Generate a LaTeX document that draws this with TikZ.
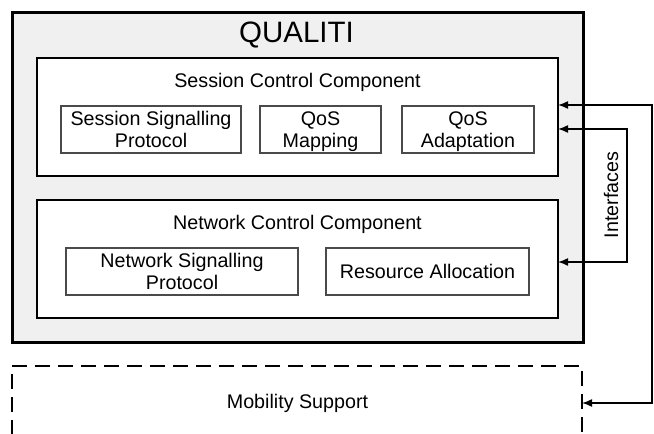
\documentclass[tikz,border=0pt]{standalone}
\usepackage{fontspec}
\setmainfont{Liberation Sans}
\usetikzlibrary{arrows.meta,calc}
\definecolor{qgray}{HTML}{F0F0F0}
\definecolor{subline}{HTML}{4A4A4A}
\begin{document}
\begin{tikzpicture}[x=1pt,y=-1pt,
  every node/.style={font=\fontsize{19.7}{22.5}\selectfont, inner sep=0pt, outer sep=0pt},
  outerbox/.style={draw, line width=3pt, fill=qgray, minimum width=571pt, minimum height=330pt},
  compbox/.style={draw, line width=1.8pt, fill=white, minimum width=521pt, minimum height=118pt},
  subbox/.style={draw=subline, line width=1.2pt, fill=white, minimum height=47pt, align=center, text depth=0pt},
  mobbox/.style={draw, dash pattern=on 15pt off 8pt, line width=1.8pt, minimum width=570pt, minimum height=140pt, anchor=north},
  lbl/.style={anchor=base},
  conn/.style={line width=1.5pt, {Latex[length=10pt,width=8pt]}-{Latex[length=10pt,width=8pt]}}
]
\useasboundingbox (0,0) rectangle (654,434);
\clip (0,0) rectangle (654,434);
\fill[white] (0,0) rectangle (654,434);

% outer QUALITI box
\node[outerbox] (q) at (297.5,177) {};
\node[lbl, font=\fontsize{29.5}{30}\selectfont] (qt) at (296.5,42) {QUALITI};

% session control component
\node[compbox] (ses) at (297.5,117) {};
\node[lbl] (sest) at (297.5,87.5) {Session Control Component};
\node[subbox, minimum width=180pt] (ssp) at (151,129.5) {Session Signalling\\Protocol};
\node[subbox, minimum width=121pt] (qm) at (320.5,129.5) {QoS\\Mapping};
\node[subbox, minimum width=132pt] (qa) at (468,129.5) {QoS\\Adaptation};

% network control component
\node[compbox] (net) at (297.5,259) {};
\node[lbl] (nett) at (297.5,229.5) {Network Control Component};
\node[subbox, minimum width=232pt] (nsp) at (182,271.5) {Network Signalling\\Protocol};
\node[subbox, minimum width=203pt] (ra) at (427.5,271.5) {Resource Allocation};

% mobility support (open at the bottom of the picture)
\node[mobbox] (mob) at (297,366) {};
\node[lbl] (mobt) at (297.5,408) {Mobility Support};

% interfaces
\node[rotate=90] (ifc) at (611,195) {Interfaces};
\coordinate (o1) at (652,105);
\coordinate (o2) at (652,403);
\coordinate (i1) at (627,129);
\coordinate (i2) at (627,262);
\draw[conn] (ses.east |- o1) -- (o1) -- (o2) -- (mob.east |- o2);
\draw[conn] (ses.east |- i1) -- (i1) -- (i2) -- (net.east |- i2);
\end{tikzpicture}
\end{document}
